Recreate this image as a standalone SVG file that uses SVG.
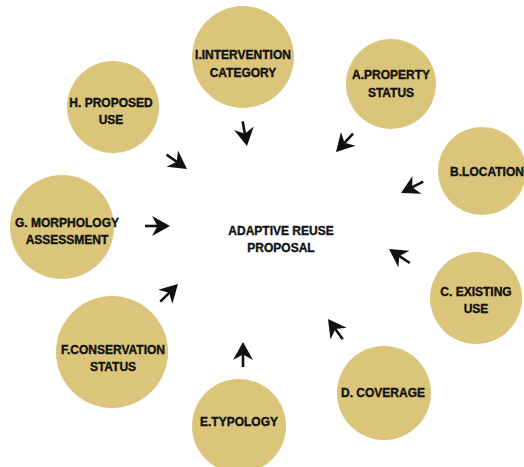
<svg xmlns="http://www.w3.org/2000/svg" width="524" height="467" viewBox="0 0 524 467">
  <defs>
    <!-- dart-shaped arrow pointing along +x, tip at the origin -->
    <g id="dart">
      <line x1="-25" y1="0" x2="-10" y2="0" stroke="#111" stroke-width="2.6"/>
      <path d="M0,0 L-18,-10 L-12.5,0 L-18,10 Z" fill="#111"/>
    </g>
  </defs>
  <style>
    .bubble { fill: #dac57b; }
    .label { font-family: "Liberation Sans", Arial, sans-serif; font-weight: bold; font-size: 12px; fill: #111; stroke: #111; stroke-width: 0.35; text-anchor: middle; }
  </style>
  <rect width="524" height="467" fill="#ffffff"/>

  <g id="node-I">
    <circle class="bubble" cx="243" cy="57" r="51"/>
    <text class="label" x="243" y="59">I.INTERVENTION</text>
    <text class="label" x="243" y="77">CATEGORY</text>
  </g>
  <g id="node-A">
    <circle class="bubble" cx="391" cy="84" r="45"/>
    <text class="label" x="391" y="79">A.PROPERTY</text>
    <text class="label" x="391" y="97">STATUS</text>
  </g>
  <g id="node-B">
    <circle class="bubble" cx="482" cy="171" r="44"/>
    <text class="label" x="487" y="176">B.LOCATION</text>
  </g>
  <g id="node-C">
    <circle class="bubble" cx="476" cy="298" r="46"/>
    <text class="label" x="476" y="296">C. EXISTING</text>
    <text class="label" x="476" y="313">USE</text>
  </g>
  <g id="node-D">
    <circle class="bubble" cx="384" cy="393" r="47"/>
    <text class="label" x="383" y="397">D. COVERAGE</text>
  </g>
  <g id="node-E">
    <circle class="bubble" cx="239" cy="426" r="47"/>
    <text class="label" x="239" y="426">E.TYPOLOGY</text>
  </g>
  <g id="node-F">
    <circle class="bubble" cx="112" cy="352" r="56"/>
    <text class="label" x="113" y="354">F.CONSERVATION</text>
    <text class="label" x="113" y="371">STATUS</text>
  </g>
  <g id="node-G">
    <circle class="bubble" cx="62" cy="227" r="52"/>
    <text class="label" x="67" y="227">G. MORPHOLOGY</text>
    <text class="label" x="67" y="244">ASSESSMENT</text>
  </g>
  <g id="node-H">
    <circle class="bubble" cx="113" cy="107" r="46"/>
    <text class="label" x="111" y="107">H. PROPOSED</text>
    <text class="label" x="111" y="124">USE</text>
  </g>
  <g id="node-center">
    <text class="label" x="281" y="235">ADAPTIVE REUSE</text>
    <text class="label" x="281" y="252">PROPOSAL</text>
  </g>

  <g id="connectors">
    <use href="#dart" transform="translate(187,169) rotate(35)"/>
    <use href="#dart" transform="translate(247,146) rotate(80)"/>
    <use href="#dart" transform="translate(336,152) rotate(133)"/>
    <use href="#dart" transform="translate(401,193) rotate(153)"/>
    <use href="#dart" transform="translate(389,249) rotate(-146)"/>
    <use href="#dart" transform="translate(328,319) rotate(-126)"/>
    <use href="#dart" transform="translate(243,342) rotate(-90)"/>
    <use href="#dart" transform="translate(178,284) rotate(-45)"/>
    <use href="#dart" transform="translate(170,226) rotate(0)"/>
  </g>
</svg>
